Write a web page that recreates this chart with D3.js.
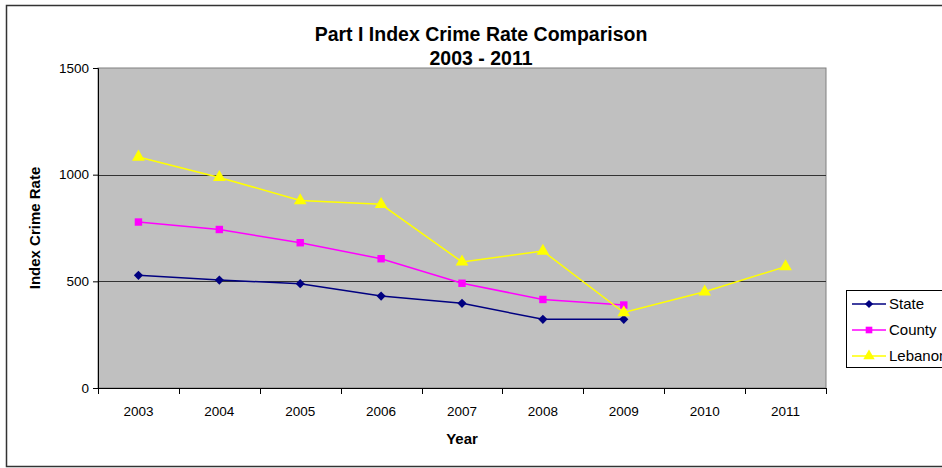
<!DOCTYPE html>
<html>
<head>
<meta charset="utf-8">
<script src="https://cdn.jsdelivr.net/npm/d3@7"></script>
<style>
  html, body { margin: 0; padding: 0; background: #fff; }
  svg { display: block; font-family: "Liberation Sans", Arial, sans-serif; }
</style>
</head>
<body>
<svg id="chart" width="942" height="468"></svg>
<script>
// Part I index crime rates, 2003-2011
const years = ["2003", "2004", "2005", "2006", "2007", "2008", "2009", "2010", "2011"];
const stateRate   = [528, 506, 489, 431, 397, 322, 322, null, null];
const countyRate  = [778, 743, 681, 606, 491, 415, 389, null, null];
const lebanonRate = [1083, 987, 879, 861, 591, 642, 354, 451, 569];
const yTicks = [0, 500, 1000, 1500];
const seriesNames = ["State", "County", "Lebanon"];

const svg = d3.select("#chart");

// outer chart frame
svg.append("rect")
  .attr("x", 6.5).attr("y", 5.5).attr("width", 960).attr("height", 461)
  .attr("fill", "#fff").attr("stroke", "#333").attr("stroke-width", 1.5);

const plot = { left: 98, top: 68, right: 826, bottom: 388 };

const x = d3.scaleBand().domain(years).range([plot.left, plot.right]);
const y = d3.scaleLinear().domain([0, 1500]).range([plot.bottom, plot.top]);

// plot background
svg.append("rect")
  .attr("x", plot.left).attr("y", plot.top)
  .attr("width", plot.right - plot.left).attr("height", plot.bottom - plot.top)
  .attr("fill", "#c0c0c0").attr("stroke", "#808080").attr("stroke-width", 1);

// horizontal gridlines
svg.append("g").selectAll("line")
  .data(yTicks.filter(d => d > 0 && d < 1500))
  .join("line")
  .attr("x1", plot.left).attr("x2", plot.right)
  .attr("y1", d => Math.round(y(d)) + 0.5).attr("y2", d => Math.round(y(d)) + 0.5)
  .attr("stroke", "#333").attr("stroke-width", 1);

// y axis
const yAxis = svg.append("g")
  .attr("transform", `translate(${plot.left},0)`)
  .call(d3.axisLeft(y).tickValues(yTicks).tickSize(5).tickPadding(4).tickFormat(d3.format("d")));
yAxis.select(".domain").attr("stroke", "#000");
yAxis.selectAll(".tick line").attr("stroke", "#000");
yAxis.selectAll("text").attr("font-size", 13.5).attr("fill", "#000")
  .attr("font-family", "Liberation Sans, Arial, sans-serif");

// x axis: ticks on category boundaries
const xAxis = svg.append("g").attr("transform", `translate(0,${plot.bottom})`);
xAxis.append("line")
  .attr("x1", plot.left).attr("x2", plot.right)
  .attr("y1", 0.5).attr("y2", 0.5).attr("stroke", "#000");
const bounds = years.map(d => x(d)).concat([plot.right]);
xAxis.selectAll("line.tick").data(bounds).join("line")
  .attr("class", "tick")
  .attr("x1", d => Math.round(d) + 0.5).attr("x2", d => Math.round(d) + 0.5)
  .attr("y1", 0).attr("y2", 6).attr("stroke", "#000");
xAxis.selectAll("text").data(years).join("text")
  .attr("x", d => x(d) + x.bandwidth() / 2).attr("y", 28)
  .attr("text-anchor", "middle").attr("font-size", 13.5).attr("fill", "#000")
  .text(d => d);

// titles
svg.append("text").attr("x", 481).attr("y", 41)
  .attr("text-anchor", "middle").attr("font-size", 19.5).attr("font-weight", "bold")
  .text("Part I Index Crime Rate Comparison");
svg.append("text").attr("x", 481).attr("y", 65)
  .attr("text-anchor", "middle").attr("font-size", 19.5).attr("font-weight", "bold")
  .text("2003 - 2011");
svg.append("text").attr("x", 462).attr("y", 444)
  .attr("text-anchor", "middle").attr("font-size", 15).attr("font-weight", "bold")
  .text("Year");
svg.append("text")
  .attr("transform", `translate(40,${(plot.top + plot.bottom) / 2}) rotate(-90)`)
  .attr("text-anchor", "middle").attr("font-size", 15).attr("font-weight", "bold")
  .text("Index Crime Rate");

// series; the diamond is a square turned 45 degrees
const series = [
  { name: seriesNames[0], values: stateRate,   color: "#000080", symbol: d3.symbolSquare,   size: 42, rot: 45 },
  { name: seriesNames[1], values: countyRate,  color: "#ff00ff", symbol: d3.symbolSquare,   size: 55, rot: 0 },
  { name: seriesNames[2], values: lebanonRate, color: "#ffff00", symbol: d3.symbolTriangle, size: 70, rot: 0 }
];

const line = d3.line()
  .defined(d => d.v != null)
  .x(d => x(d.year) + x.bandwidth() / 2)
  .y(d => y(d.v));

series.forEach(s => {
  const pts = years.map((yr, i) => ({ year: yr, v: s.values[i] }));
  svg.append("path").datum(pts)
    .attr("d", line).attr("fill", "none")
    .attr("stroke", s.color).attr("stroke-width", 1.5);
  svg.append("g").selectAll("path")
    .data(pts.filter(d => d.v != null))
    .join("path")
    .attr("transform", d => `translate(${x(d.year) + x.bandwidth() / 2},${y(d.v)}) rotate(${s.rot})`)
    .attr("d", d3.symbol(s.symbol, s.size))
    .attr("fill", s.color);
});

// legend
const lg = svg.append("g");
lg.append("rect")
  .attr("x", 846.5).attr("y", 290.5).attr("width", 120).attr("height", 77)
  .attr("fill", "#fff").attr("stroke", "#000").attr("stroke-width", 1);
series.forEach((s, i) => {
  const cy = 304 + i * 26;
  lg.append("line").attr("x1", 852).attr("x2", 886)
    .attr("y1", cy).attr("y2", cy).attr("stroke", s.color).attr("stroke-width", 1.5);
  lg.append("path").attr("transform", `translate(869,${cy}) rotate(${s.rot})`)
    .attr("d", d3.symbol(s.symbol, s.size * 0.8)).attr("fill", s.color);
  lg.append("text").attr("x", 889).attr("y", cy + 5)
    .attr("font-size", 15).attr("fill", "#000").text(s.name);
});
</script>
</body>
</html>
